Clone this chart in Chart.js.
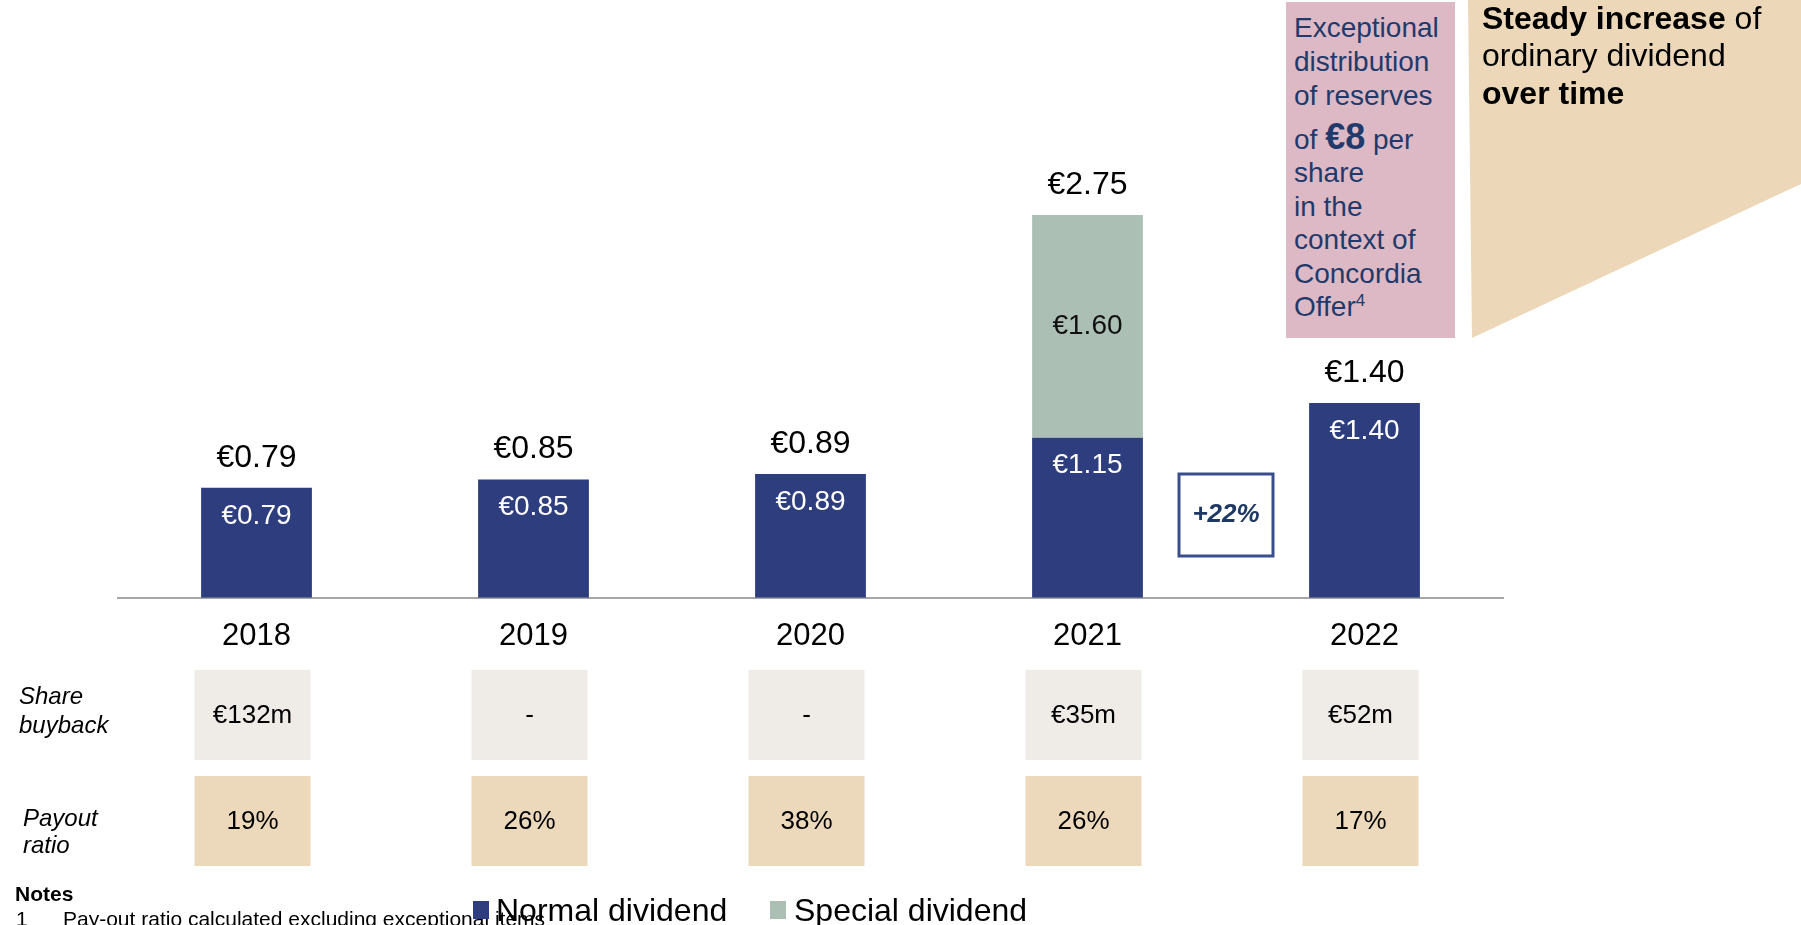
<!DOCTYPE html>
<html>
<head>
<meta charset="utf-8">
<script src="https://cdn.jsdelivr.net/npm/chart.js@4/dist/chart.umd.min.js"></script>
<style>
  html, body { margin: 0; padding: 0; background: #fff; overflow: hidden; }
  body { width: 1801px; height: 925px; position: relative; font-family: "Liberation Sans", Arial, sans-serif; }
  #c { position: absolute; left: 0; top: 0; }
  .t { position: absolute; white-space: nowrap; }
  .pink { color: #1F3A6B; font-size: 28px; line-height: 34px; left: 1294px; }
  .beige { color: #000; font-size: 32px; line-height: 38px; left: 1482px; }
  .row { font-style: italic; font-size: 24px; line-height: 28px; color: #000; }
  .note { font-size: 21px; line-height: 24px; }
</style>
</head>
<body>
<canvas id="c" width="1801" height="925"></canvas>

<svg width="1801" height="925" style="position:absolute;left:0;top:0;pointer-events:none">
  <rect x="1286" y="2" width="169" height="336" fill="#DDB9C6"></rect>
  <polygon points="1468,0 1801,0 1801,184 1472,338" fill="#ECD8B9"></polygon>
</svg>

<div class="t pink" style="top:11px">Exceptional</div>
<div class="t pink" style="top:45px">distribution</div>
<div class="t pink" style="top:79px">of reserves</div>
<div class="t pink" style="top:120px">of <b style="font-size:36px">€8</b> per</div>
<div class="t pink" style="top:156px">share</div>
<div class="t pink" style="top:190px">in the</div>
<div class="t pink" style="top:223px">context of</div>
<div class="t pink" style="top:257px">Concordia</div>
<div class="t pink" style="top:290px">Offer<sup style="font-size:17px;vertical-align:10px;line-height:0">4</sup></div>

<div class="t beige" style="top:-1px"><b>Steady increase</b> of</div>
<div class="t beige" style="top:36px">ordinary dividend</div>
<div class="t beige" style="top:74px"><b>over time</b></div>

<div class="t row" style="left:19px;top:682px">Share</div>
<div class="t row" style="left:19px;top:711px">buyback</div>
<div class="t row" style="left:23px;top:804px">Payout</div>
<div class="t row" style="left:23px;top:831px">ratio</div>

<div class="t note" style="left:15px;top:882px;font-weight:bold">Notes</div>
<div class="t note" style="left:16px;top:907px">1</div>
<div class="t note" style="left:63px;top:907px">Pay-out ratio calculated excluding exceptional items</div>

<div class="t" style="left:473px;top:901px;width:16px;height:18px;background:#2E3D7E"></div>
<div class="t" style="left:496px;top:891px;font-size:32px;line-height:38px">Normal dividend</div>
<div class="t" style="left:770px;top:901px;width:16px;height:18px;background:#ABBFB5"></div>
<div class="t" style="left:794px;top:891px;font-size:32px;line-height:38px">Special dividend</div>

<script>
const FONT = '"Liberation Sans", Arial, sans-serif';

const years = ['2018', '2019', '2020', '2021', '2022'];
const normalDividend = [0.79, 0.85, 0.89, 1.15, 1.40];
const specialDividend = [null, null, null, 1.60, null];
const shareBuyback = ['€132m', '-', '-', '€35m', '€52m'];
const payoutRatio = ['19%', '26%', '38%', '26%', '17%'];
const growthLabel = '+22%';

const euro = v => '€' + v.toFixed(2);

// labels on bars, the two rows of cells and the +22% box
const labelPlugin = {
  id: 'labels',
  afterDatasetsDraw(chart) {
    const ctx = chart.ctx;
    const xs = chart.scales.x;
    const m0 = chart.getDatasetMeta(0);
    const m1 = chart.getDatasetMeta(1);
    ctx.save();
    ctx.textAlign = 'center';
    ctx.textBaseline = 'middle';

    m0.data.forEach((bar, i) => {
      ctx.fillStyle = '#fff';
      ctx.font = '28px ' + FONT;
      ctx.fillText(euro(normalDividend[i]), bar.x, bar.y + 28);

      let top = bar.y;
      let total = normalDividend[i];
      if (specialDividend[i]) {
        const sb = m1.data[i];
        ctx.fillStyle = '#111';
        ctx.fillText(euro(specialDividend[i]), sb.x, (sb.y + sb.base) / 2);
        top = sb.y;
        total += specialDividend[i];
      }
      ctx.fillStyle = '#000';
      ctx.font = '32px ' + FONT;
      ctx.fillText(euro(total), bar.x, top - 30);
    });

    years.forEach((y, i) => {
      const x = xs.getPixelForValue(i) - 4;
      ctx.fillStyle = '#EFEBE7';
      ctx.fillRect(x - 58, 670, 116, 90);
      ctx.fillStyle = '#ECD9BB';
      ctx.fillRect(x - 58, 776, 116, 90);
      ctx.fillStyle = '#000';
      ctx.font = '26px ' + FONT;
      ctx.fillText(shareBuyback[i], x, 716);
      ctx.fillText(payoutRatio[i], x, 822);
    });

    const mid = (xs.getPixelForValue(3) + xs.getPixelForValue(4)) / 2;
    ctx.strokeStyle = '#3B4E8C';
    ctx.lineWidth = 3;
    ctx.strokeRect(mid - 47, 474, 94, 82);
    ctx.fillStyle = '#1F3864';
    ctx.font = 'italic bold 26px ' + FONT;
    ctx.fillText(growthLabel, mid, 515);
    ctx.restore();
  }
};

new Chart(document.getElementById('c').getContext('2d'), {
  type: 'bar',
  data: {
    labels: years,
    datasets: [{
      label: 'Normal dividend',
      data: normalDividend,
      backgroundColor: '#2E3D7E',
      categoryPercentage: 1,
      barPercentage: 0.4
    }, {
      label: 'Special dividend',
      data: specialDividend,
      backgroundColor: '#ABBFB5',
      categoryPercentage: 1,
      barPercentage: 0.4
    }]
  },
  options: {
    responsive: false,
    animation: false,
    layout: { padding: { left: 118, right: 298, top: 41, bottom: 258 } },
    plugins: {
      legend: { display: false },
      tooltip: { enabled: false }
    },
    scales: {
      x: {
        stacked: true,
        grid: { display: false },
        border: { display: true, color: '#A6A6A6', width: 2 },
        ticks: { color: '#000', font: { family: FONT, size: 31 }, padding: 12 }
      },
      y: {
        stacked: true,
        display: false,
        min: 0,
        max: 4
      }
    }
  },
  plugins: [labelPlugin]
});
</script>
</body>
</html>
